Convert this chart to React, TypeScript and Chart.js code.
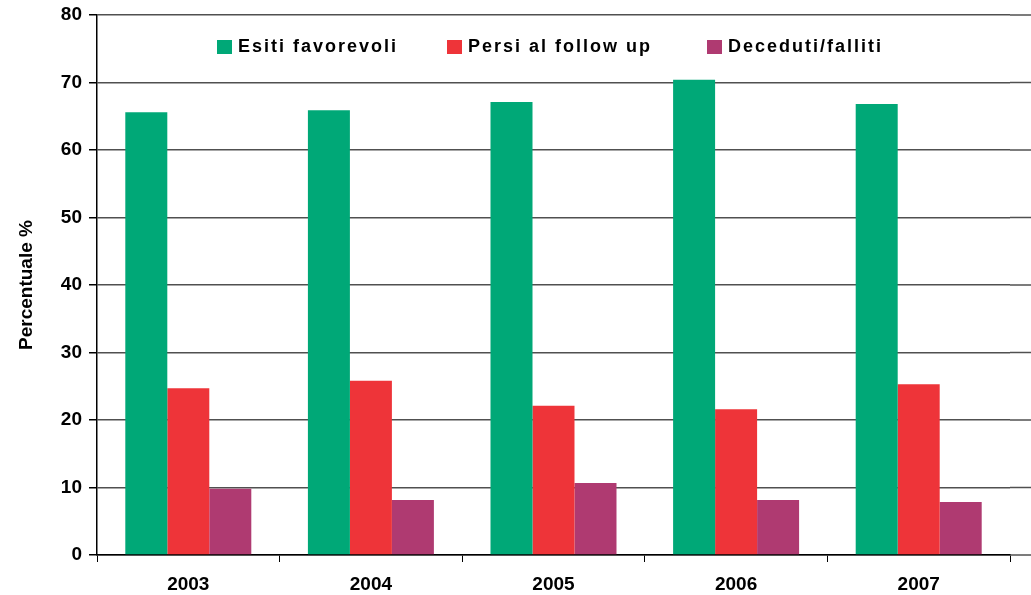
import React, { useEffect, useRef } from "react";
import { Chart, registerables } from "chart.js";

Chart.register(...registerables);

const years = ["2003", "2004", "2005", "2006", "2007"];
const esitiFavorevoli = [65.6, 65.9, 67.1, 70.4, 66.8];
const persiFollowUp = [24.7, 25.8, 22.1, 21.6, 25.3];
const decedutiFalliti = [9.8, 8.15, 10.65, 8.15, 7.85];
const yTicks = [0, 10, 20, 30, 40, 50, 60, 70, 80];

const FONT = "'Liberation Sans', Arial, sans-serif";

const legendPositions = [
  { x: 217, y: 40 },
  { x: 447, y: 40 },
  { x: 707, y: 40 },
];

const insideLegend = {
  id: "insideLegend",
  afterDraw(chart: any) {
    const ctx = chart.ctx;
    ctx.save();
    chart.data.datasets.forEach((ds: any, i: number) => {
      const p = legendPositions[i];
      ctx.fillStyle = ds.backgroundColor;
      ctx.fillRect(p.x, p.y, 15, 14);
      ctx.fillStyle = "#000";
      ctx.font = `bold 18px ${FONT}`;
      (ctx as any).letterSpacing = "2px";
      ctx.textBaseline = "middle";
      ctx.textAlign = "left";
      ctx.fillText(ds.label, p.x + 21, p.y + 7.5);
    });
    ctx.restore();
  },
};

const extendGrid = {
  id: "extendGrid",
  beforeDatasetsDraw(chart: any) {
    const ctx = chart.ctx;
    const y = chart.scales.y;
    ctx.save();
    ctx.strokeStyle = "#505050";
    ctx.lineWidth = 1.5;
    yTicks.forEach((v) => {
      const py = y.getPixelForValue(v);
      ctx.beginPath();
      ctx.moveTo(chart.chartArea.right, py);
      ctx.lineTo(chart.width, py);
      ctx.stroke();
    });
    ctx.restore();
  },
};

export default function App() {
  const ref = useRef<HTMLCanvasElement>(null);
  useEffect(() => {
    document.body.style.margin = "0";
    document.body.style.overflow = "hidden";
    const chart = new Chart(ref.current!, {
      type: "bar",
      data: {
        labels: years,
        datasets: [
          { label: "Esiti favorevoli", data: esitiFavorevoli, backgroundColor: "#00A877" },
          { label: "Persi al follow up", data: persiFollowUp, backgroundColor: "#EE3439" },
          { label: "Deceduti/falliti", data: decedutiFalliti, backgroundColor: "#AF3A71" },
        ],
      },
      options: {
        responsive: false,
        animation: false,
        layout: { padding: { top: 15, right: 21, left: 0, bottom: 0 } },
        datasets: { bar: { categoryPercentage: 0.69, barPercentage: 1.0 } },
        plugins: {
          legend: { display: false },
          tooltip: { enabled: false },
        },
        scales: {
          x: {
            afterFit: (scale: any) => {
              scale.height = 40;
            },
            grid: {
              display: true,
              drawOnChartArea: false,
              offset: true,
              tickLength: 7,
              tickColor: "#000",
            },
            border: { display: true, color: "#000", width: 1.5 },
            ticks: {
              color: "#000",
              font: { family: FONT, size: 19, weight: "bold" },
              padding: 11,
            },
          },
          y: {
            min: 0,
            max: 80,
            afterFit: (scale: any) => {
              scale.width = 97;
              scale.paddingTop = 0;
            },
            afterBuildTicks: (scale: any) => {
              scale.ticks = yTicks.map((v) => ({ value: v }));
            },
            grid: {
              color: "#505050",
              lineWidth: 1.5,
              tickLength: 8,
              tickColor: "#000",
            },
            border: { display: true, color: "#000", width: 1.5 },
            ticks: {
              color: "#000",
              font: { family: FONT, size: 19, weight: "bold", lineHeight: 0.8 },
              padding: 7,
            },
            title: {
              display: true,
              text: "Percentuale %",
              color: "#000",
              font: { family: FONT, size: 19, weight: "bold" },
              padding: { top: 15, bottom: 0 },
            },
          },
        },
      },
      plugins: [insideLegend, extendGrid],
    });
    return () => chart.destroy();
  }, []);
  return (
    <div style={{ width: 1031, height: 595, overflow: "hidden", background: "#fff" }}>
      <canvas ref={ref} width={1031} height={595} style={{ display: "block" }} />
    </div>
  );
}
